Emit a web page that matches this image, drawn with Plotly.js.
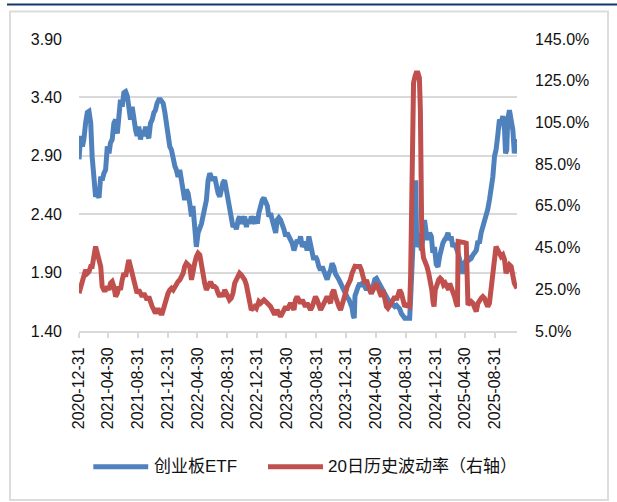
<!DOCTYPE html>
<html>
<head>
<meta charset="utf-8">
<script src="https://cdn.plot.ly/plotly-3.0.1.min.js"></script>
<style>
html,body{margin:0;padding:0;background:#fff;}
#chart{width:617px;height:502px;}
</style>
</head>
<body>
<div id="chart"></div>
<script>
// Day offsets counted from 2020-12-31
var baseDate = '2020-12-31';
var tickDates = ['2020-12-31','2021-04-30','2021-08-31','2021-12-31','2022-04-30','2022-08-31','2022-12-31','2023-04-30','2023-08-31','2023-12-31','2024-04-30','2024-08-31','2024-12-31','2025-04-30','2025-08-31'];
var leftTicks = [1.40, 1.90, 2.40, 2.90, 3.40, 3.90];
var rightTicks = [5, 25, 45, 65, 85, 105, 125, 145];
var seriesNames = ['创业板ETF', '20日历史波动率（右轴）'];

var etfDays = [0,7,14,20,27,34,41,48,54,61,68,75,82,89,95,102,109,116,123,129,136,143,150,157,164,170,177,184,191,198,204,211,218,225,232,238,245,252,259,266,273,279,286,293,300,307,313,320,327,334,341,345,352,358,365,372,379,386,393,399,406,413,420,427,433,440,447,454,461,467,474,481,488,495,502,508,515,522,529,536,542,549,556,563,570,577,583,590,597,604,611,617,624,631,638,645,652,658,665,672,679,686,692,699,706,713,720,727,731,737,744,751,758,765,772,778,785,792,799,806,812,819,826,833,840,847,853,860,867,874,881,887,894,901,908,915,922,928,935,942,949,956,962,969,976,983,990,997,1003,1010,1017,1024,1031,1037,1044,1051,1058,1065,1072,1078,1085,1092,1099,1106,1112,1119,1124,1128,1131,1137,1144,1151,1157,1164,1171,1178,1185,1191,1198,1205,1212,1219,1226,1232,1239,1246,1253,1260,1266,1273,1280,1287,1294,1301,1307,1314,1321,1328,1335,1341,1348,1355,1359,1365,1369,1375,1380,1384,1389,1396,1403,1410,1416,1423,1430,1437,1444,1450,1457,1464,1471,1478,1485,1491,1498,1505,1512,1519,1525,1532,1539,1546,1553,1560,1566,1573,1580,1587,1594,1600,1607,1614,1621,1628,1635,1641,1648,1655,1662,1669,1675,1682,1689,1696,1703,1709,1716,1723,1730,1737,1744,1748,1753,1757,1764,1771,1778,1784,1791,1795];
var etfValues = [2.87,3.07,2.98,3.04,3.18,3.27,3.28,3.18,2.89,2.69,2.55,2.58,2.54,2.72,2.69,2.75,2.78,2.98,2.92,3.01,3.04,3.18,3.21,3.09,3.21,3.38,3.32,3.44,3.45,3.41,3.32,3.21,3.32,3.18,3.12,3.07,3.15,3.04,3.12,3.07,3.15,3.09,3.05,3.18,3.21,3.27,3.29,3.35,3.38,3.38,3.35,3.35,3.27,3.18,3.07,2.98,2.95,2.84,2.81,2.78,2.72,2.78,2.67,2.58,2.52,2.61,2.58,2.49,2.38,2.47,2.29,2.12,2.24,2.27,2.32,2.38,2.44,2.52,2.69,2.75,2.72,2.69,2.72,2.64,2.58,2.55,2.64,2.67,2.69,2.61,2.49,2.47,2.38,2.29,2.32,2.27,2.35,2.38,2.32,2.35,2.38,2.29,2.35,2.32,2.38,2.35,2.32,2.38,2.32,2.41,2.47,2.52,2.54,2.49,2.47,2.38,2.41,2.35,2.29,2.24,2.35,2.37,2.35,2.32,2.27,2.21,2.24,2.21,2.18,2.15,2.09,2.12,2.18,2.15,2.21,2.12,2.15,2.15,2.09,2.21,2.15,2.09,2.01,2.04,2.01,1.95,1.92,1.95,1.92,1.89,1.84,1.89,1.92,1.98,1.95,1.89,1.87,1.84,1.81,1.78,1.75,1.72,1.69,1.67,1.64,1.60,1.53,1.51,1.70,1.75,1.78,1.81,1.78,1.82,1.78,1.75,1.79,1.75,1.72,1.78,1.84,1.85,1.82,1.81,1.78,1.75,1.72,1.69,1.67,1.65,1.64,1.62,1.61,1.62,1.61,1.59,1.55,1.52,1.51,1.51,1.51,1.51,1.67,2.01,2.29,2.58,2.69,2.12,2.15,2.24,2.09,2.20,2.35,2.24,2.18,2.24,2.21,2.07,2.12,1.97,1.95,2.04,2.12,2.15,2.18,2.20,2.24,2.18,2.21,2.12,2.15,2.12,2.07,2.01,1.92,1.89,1.98,2.01,2.04,2.01,2.02,2.05,2.07,2.09,2.17,2.15,2.24,2.29,2.35,2.38,2.44,2.52,2.61,2.72,2.90,2.95,3.07,3.21,3.18,3.24,3.12,2.92,2.95,3.21,3.29,3.18,3.12,2.92,3.04,3.01];

var volDays = [0,7,14,20,27,34,41,48,54,61,68,75,82,89,95,102,109,116,123,129,136,143,150,157,164,170,177,184,191,198,204,211,218,225,232,238,245,252,259,266,273,279,286,293,300,307,313,320,327,334,341,345,352,358,365,372,379,386,393,399,406,413,420,427,433,440,447,454,461,467,474,481,488,495,502,508,515,522,529,536,542,549,556,563,570,577,583,590,597,604,611,617,624,631,638,645,652,658,665,672,679,686,692,699,706,713,720,727,731,737,744,751,758,765,772,778,785,792,799,806,812,819,826,833,840,847,853,860,867,874,881,887,894,901,908,915,922,928,935,942,949,956,962,969,976,983,990,997,1003,1010,1017,1024,1031,1037,1044,1051,1058,1065,1072,1078,1085,1092,1099,1106,1112,1119,1126,1131,1137,1144,1151,1157,1164,1171,1178,1185,1191,1198,1205,1212,1219,1226,1232,1239,1246,1253,1260,1266,1273,1280,1287,1294,1301,1307,1314,1321,1328,1335,1341,1348,1355,1359,1362,1366,1371,1377,1382,1389,1395,1399,1401,1405,1412,1419,1426,1433,1440,1446,1451,1455,1460,1467,1474,1480,1487,1494,1501,1508,1515,1519,1525,1532,1539,1546,1551,1554,1566,1580,1587,1591,1594,1600,1607,1614,1621,1628,1635,1641,1648,1655,1662,1669,1675,1682,1689,1696,1703,1709,1716,1723,1730,1737,1744,1750,1757,1764,1771,1778,1784,1791,1795];
var volValues = [23.1,26.3,29.5,32.7,34.3,32.7,33.5,35.9,35.9,40.7,45.5,42.3,37.5,35.9,26.3,24.7,24.7,26.3,24.7,27.9,28.7,26.3,21.5,23.1,26.3,24.7,29.5,32.7,31.1,34.3,39.1,35.9,32.7,29.5,26.3,23.1,24.7,23.1,21.5,23.1,21.5,19.9,21.5,18.3,16.7,15.1,13.5,15.1,15.1,13.5,13.5,15.1,18.3,19.9,23.1,24.7,25.5,24.7,26.3,27.9,28.7,29.5,31.1,32.7,35.9,37.5,36.7,35.9,29.5,34.3,37.5,40.7,42.3,41.5,35.9,32.7,27.9,24.7,26.3,27.9,27.9,26.3,26.3,25.5,23.1,21.5,23.1,21.5,24.7,23.1,21.5,19.9,20.7,23.1,27.9,29.5,31.1,32.7,31.9,31.1,29.5,27.1,23.1,16.7,15.1,15.9,16.7,15.9,18.3,19.1,18.3,19.1,19.9,19.1,18.3,18.3,16.7,15.1,13.5,13.5,15.1,13.5,11.9,13.5,15.1,16.7,15.1,16.7,18.3,16.7,15.1,19.9,21.5,19.9,18.3,19.9,18.3,16.7,18.3,16.7,15.1,16.7,19.9,21.5,19.9,16.7,15.1,16.7,18.3,19.9,21.5,19.9,18.3,23.1,24.7,21.5,18.3,16.7,15.1,18.3,19.9,23.1,26.3,27.9,29.5,32.7,35.9,36.0,35.9,35.9,35.9,34.3,29.5,27.9,29.5,26.3,24.7,23.1,24.7,26.3,27.9,25.5,23.1,21.5,24.7,19.9,16.7,15.9,16.7,18.3,19.9,21.5,19.9,23.1,24.7,23.1,19.9,16.7,17.5,16.7,16.7,31.1,71.0,103.0,123.9,127.0,128.7,128.7,126.3,111.0,79.0,47.0,40.0,38.5,35.9,32.7,29.5,24.7,19.0,16.7,24.7,27.9,29.5,30.3,29.5,27.1,27.9,26.3,24.7,27.9,26.3,23.1,21.5,18.3,16.7,47.9,47.9,47.4,47.1,34.3,17.5,18.3,19.1,18.3,15.1,14.3,18.3,19.9,20.7,21.5,20.7,18.3,16.7,18.3,24.7,34.3,40.7,45.5,43.9,42.3,40.7,41.5,39.1,32.7,34.3,36.7,35.9,31.1,27.9,26.3,25.5];
var lastDay = 1795;

function dayToDate(d) {
  var t = Date.UTC(2020, 11, 31) + Math.round(d) * 86400000;
  return new Date(t).toISOString().slice(0, 10);
}

var blue = '#4F81BD', red = '#C0504D';
var tickFont = {family: 'Liberation Sans, Arial, sans-serif', size: 16, color: '#111111'};

var traces = [
  {x: etfDays.map(dayToDate), y: etfValues, type: 'scatter', mode: 'lines', name: seriesNames[0],
   line: {color: blue, width: 5}, yaxis: 'y', hoverinfo: 'skip'},
  {x: volDays.map(dayToDate), y: volValues, type: 'scatter', mode: 'lines', name: seriesNames[1],
   line: {color: red, width: 5}, yaxis: 'y2', hoverinfo: 'skip'}
];

var layout = {
  width: 617, height: 502,
  margin: {l: 79, r: 100, t: 39, b: 171},
  paper_bgcolor: '#ffffff', plot_bgcolor: '#ffffff',
  showlegend: false,
  xaxis: {
    type: 'date', range: [baseDate, dayToDate(lastDay)],
    tickmode: 'array', tickvals: tickDates, ticktext: tickDates,
    tickangle: -90, tickfont: tickFont,
    ticks: 'outside', ticklen: 5, tickwidth: 2, tickcolor: '#d9d9d9',
    showline: true, linecolor: '#d9d9d9', linewidth: 2,
    showgrid: false, zeroline: false, fixedrange: true,
    ticklabelstandoff: 3
  },
  yaxis: {
    range: [1.40, 3.90], tickmode: 'array', tickvals: leftTicks,
    ticktext: leftTicks.map(function(v){return v.toFixed(2);}),
    tickfont: tickFont, showgrid: true, gridcolor: '#d9d9d9', gridwidth: 2,
    zeroline: false, showline: false, ticks: '', ticklabelstandoff: 16
  },
  yaxis2: {
    range: [5, 145], overlaying: 'y', side: 'right', tickmode: 'array', tickvals: rightTicks,
    ticktext: rightTicks.map(function(v){return v.toFixed(1) + '%';}),
    tickfont: tickFont, showgrid: false, zeroline: false, showline: false, ticks: '',
    ticklabelstandoff: 17
  },
  shapes: [
    {type: 'line', xref: 'paper', yref: 'paper', x0: -0.1644, x1: 1.23, y0: 1.118, y1: 1.118,
     line: {color: '#12386b', width: 2}},
    {type: 'rect', xref: 'paper', yref: 'paper', x0: -0.1575, x1: 1.2078, y0: -0.579, y1: 1.094,
     line: {color: '#dcdcdc', width: 2}},
    {type: 'line', xref: 'paper', yref: 'paper', x0: 0.0327, x1: 0.158, y0: -0.4647, y1: -0.4647,
     line: {color: blue, width: 5}},
    {type: 'line', xref: 'paper', yref: 'paper', x0: 0.4315, x1: 0.557, y0: -0.4647, y1: -0.4647,
     line: {color: red, width: 5}}
  ],
  annotations: [
    {xref: 'paper', yref: 'paper', x: 0.166, y: -0.4647, xanchor: 'left', yanchor: 'middle',
     text: seriesNames[0], showarrow: false,
     font: {family: 'Liberation Sans, Noto Sans CJK SC, sans-serif', size: 17, color: '#111111'}},
    {xref: 'paper', yref: 'paper', x: 0.563, y: -0.4647, xanchor: 'left', yanchor: 'middle',
     text: seriesNames[1], showarrow: false,
     font: {family: 'Liberation Sans, Noto Sans CJK SC, sans-serif', size: 17, color: '#111111'}}
  ]
};

Plotly.newPlot('chart', traces, layout, {staticPlot: true, displayModeBar: false});
</script>
</body>
</html>
